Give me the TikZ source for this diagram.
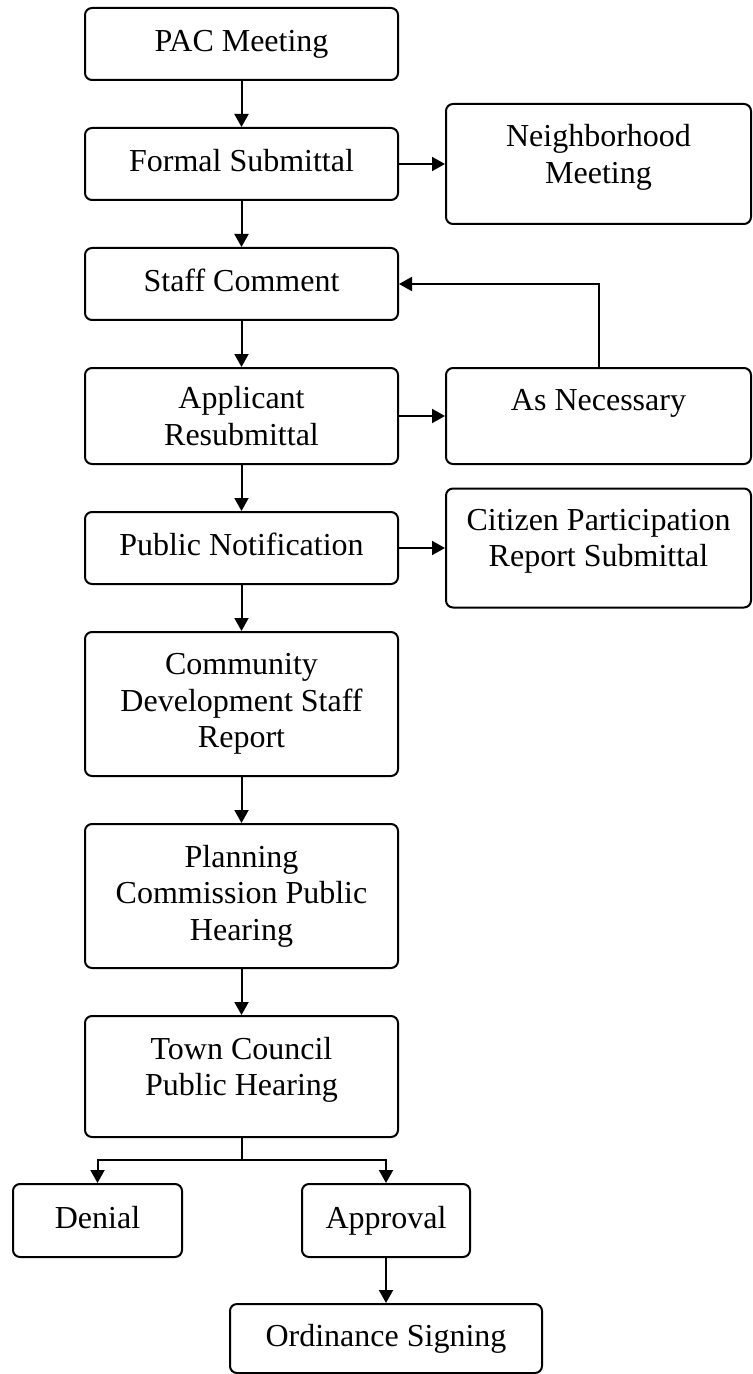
\documentclass[tikz,border=0pt]{standalone}
\usepackage{fontspec}
\setmainfont{Liberation Serif}
\usepackage{tikz}
\usetikzlibrary{arrows.meta,calc,positioning}

\begin{document}
\begin{tikzpicture}[x=0.5pt, y=-0.5pt,
  stage/.style={draw, line width=1pt, rounded corners=3.5pt, align=center,
    font=\fontsize{16}{18.3}\selectfont, inner sep=0pt},
  oneline/.style={text height=11pt, text depth=3.5pt},
  arr/.style={line width=1pt, -{Triangle[length=6.5pt,width=7pt]}}]
\useasboundingbox (0,0) rectangle (752,1374);
% Colonna principale
\node[stage, oneline, minimum width=156.5pt, minimum height=36pt] (pac) at (241.5,44) {PAC Meeting};
\node[stage, oneline, minimum width=156.5pt, minimum height=36pt] (formal) at (241.5,164) {Formal Submittal};
\node[stage, oneline, minimum width=156.5pt, minimum height=36pt] (staff) at (241.5,284) {Staff Comment};
\node[stage, minimum width=156.5pt, minimum height=48pt] (applicant) at (241.5,416) {Applicant\\Resubmittal};
\node[stage, oneline, minimum width=156.5pt, minimum height=36pt] (public) at (241.5,548) {Public Notification};
\node[stage, minimum width=156.5pt, minimum height=72pt] (community) at (241.5,704) {Community\\Development Staff\\Report};
\node[stage, minimum width=156.5pt, minimum height=72pt] (planning) at (241.5,896) {Planning\\Commission Public\\Hearing};
\node[stage, minimum width=156.5pt, minimum height=60.5pt, text depth=10pt] (town) at (241.5,1076.5) {Town Council\\Public Hearing};
% Colonna destra
\node[stage, minimum width=152.5pt, minimum height=60pt, text depth=10pt] (neigh) at (598.5,164) {Neighborhood\\Meeting};
\node[stage, minimum width=152.5pt, minimum height=48pt, text height=11pt, text depth=17pt] (asnec) at (598.5,416) {As Necessary};
\node[stage, minimum width=152.5pt, minimum height=59.5pt, text depth=10pt] (citizen) at (598.5,548) {Citizen Participation\\Report Submittal};
% Esito
\node[stage, oneline, minimum width=84.5pt, minimum height=36.5pt] (denial) at (97.5,1220.5) {Denial};
\node[stage, oneline, minimum width=84pt, minimum height=36.5pt] (approval) at (386,1220.5) {Approval};
\node[stage, oneline, minimum width=156pt, minimum height=34.5pt] (ordinance) at (386,1338.5) {Ordinance Signing};
\coordinate (split) at (241.5,1160);
% Frecce
\draw[arr] (pac) -- (formal);
\draw[arr] (formal) -- (neigh);
\draw[arr] (formal) -- (staff);
\draw[arr] (staff) -- (applicant);
\draw[arr] (applicant) -- (asnec);
\draw[arr] (asnec.north) |- (staff.east);
\draw[arr] (applicant) -- (public);
\draw[arr] (public) -- (citizen);
\draw[arr] (public) -- (community);
\draw[arr] (community) -- (planning);
\draw[arr] (planning) -- (town);
\draw[line width=1pt] (town.south) -- (split);
\draw[arr] (split) -| (denial.north);
\draw[arr] (split) -| (approval.north);
\draw[arr] (approval) -- (ordinance);
\end{tikzpicture}
\end{document}
